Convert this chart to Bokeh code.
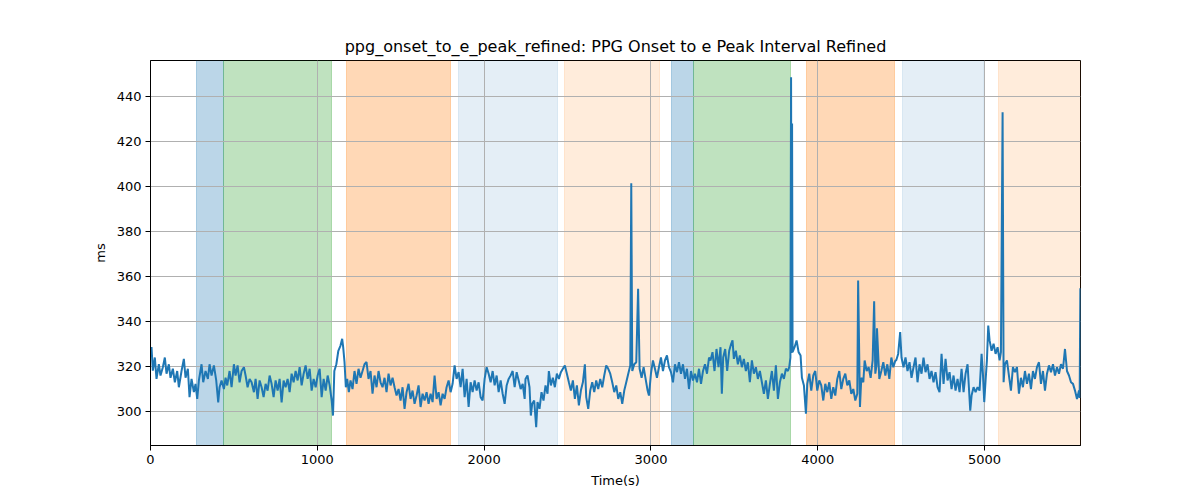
from bokeh.plotting import figure
from bokeh.models import Range1d, FixedTicker
from bokeh.embed import file_html
from bokeh.resources import INLINE

# shaded phases (start, end in seconds) and their colours
band_start = [276, 440, 1175, 1847, 2482, 3124, 3257, 3933, 4508, 5084]
band_end = [440, 1083, 1799, 2438, 3053, 3257, 3835, 4458, 4992, 5575]
band_color = ["#1f77b4", "#2ca02c", "#ff7f0e", "#1f77b4", "#ff7f0e",
              "#1f77b4", "#2ca02c", "#ff7f0e", "#1f77b4", "#ff7f0e"]
band_alpha = [0.3, 0.3, 0.3, 0.12, 0.15, 0.3, 0.3, 0.3, 0.12, 0.15]

time_s = [
    0, 6, 14, 26, 36, 50, 60, 74, 86, 96, 110, 120, 134, 146, 160, 170, 186, 200, 210, 224,
    234, 246, 260, 270, 280, 290, 306, 316, 330, 344, 354, 366, 380, 394, 406, 414, 426, 440, 450, 460,
    474, 486, 500, 510, 522, 534, 546, 560, 570, 582, 594, 606, 620, 630, 642, 654, 666, 678, 690, 702,
    714, 726, 738, 750, 762, 774, 786, 798, 810, 822, 834, 846, 858, 870, 882, 894, 906, 918, 930, 942,
    954, 966, 978, 990, 1002, 1014, 1026, 1038, 1050, 1062, 1074, 1086, 1094, 1102, 1114, 1126, 1139, 1149, 1155, 1163,
    1171, 1179, 1189, 1199, 1211, 1223, 1235, 1247, 1259, 1271, 1283, 1295, 1307, 1319, 1331, 1343, 1355, 1367, 1379, 1391,
    1403, 1415, 1427, 1439, 1451, 1463, 1475, 1487, 1499, 1511, 1523, 1535, 1547, 1559, 1571, 1583, 1595, 1607, 1619, 1631,
    1643, 1655, 1667, 1679, 1691, 1703, 1715, 1727, 1739, 1751, 1763, 1775, 1787, 1799, 1811, 1823, 1835, 1847, 1859, 1871,
    1883, 1895, 1907, 1919, 1931, 1943, 1955, 1967, 1979, 1991, 2003, 2015, 2027, 2039, 2051, 2063, 2075, 2087, 2099, 2111,
    2123, 2135, 2147, 2159, 2171, 2183, 2195, 2207, 2219, 2231, 2243, 2248, 2260, 2272, 2280, 2288, 2300, 2312, 2320, 2332,
    2344, 2356, 2368, 2380, 2388, 2400, 2412, 2424, 2436, 2448, 2460, 2472, 2484, 2496, 2508, 2520, 2532, 2544, 2556, 2568,
    2580, 2592, 2604, 2612, 2624, 2636, 2648, 2660, 2672, 2684, 2696, 2708, 2720, 2732, 2744, 2756, 2768, 2780, 2792, 2804,
    2816, 2828, 2840, 2852, 2864, 2876, 2882, 2888, 2900, 2912, 2923, 2932, 2944, 2956, 2968, 2980, 2988, 3000, 3012, 3024,
    3036, 3048, 3060, 3072, 3084, 3096, 3108, 3120, 3132, 3144, 3156, 3168, 3180, 3192, 3204, 3216, 3228, 3240, 3252, 3264,
    3276, 3288, 3300, 3312, 3324, 3336, 3348, 3357, 3369, 3381, 3393, 3405, 3417, 3425, 3433, 3445, 3457, 3469, 3481, 3489,
    3497, 3509, 3521, 3533, 3545, 3557, 3569, 3581, 3593, 3605, 3617, 3629, 3641, 3653, 3665, 3677, 3689, 3701, 3713, 3725,
    3737, 3749, 3761, 3773, 3785, 3797, 3809, 3821, 3829, 3836, 3840, 3843, 3846, 3849, 3861, 3873, 3885, 3897, 3905, 3917,
    3929, 3937, 3949, 3961, 3973, 3985, 3997, 4009, 4021, 4033, 4045, 4057, 4069, 4081, 4093, 4105, 4117, 4129, 4141, 4153,
    4165, 4177, 4189, 4201, 4213, 4225, 4237, 4242, 4253, 4261, 4273, 4281, 4293, 4305, 4317, 4329, 4338, 4345, 4352, 4355,
    4369, 4381, 4393, 4405, 4417, 4429, 4441, 4453, 4465, 4470, 4482, 4494, 4502, 4514, 4526, 4538, 4550, 4562, 4574, 4586,
    4598, 4610, 4622, 4634, 4646, 4658, 4670, 4682, 4694, 4706, 4718, 4730, 4742, 4754, 4766, 4778, 4790, 4802, 4814, 4826,
    4838, 4850, 4862, 4874, 4886, 4898, 4906, 4914, 4922, 4934, 4946, 4958, 4970, 4982, 4990, 4998, 5006, 5014, 5022, 5030,
    5042, 5054, 5066, 5078, 5090, 5098, 5108, 5114, 5122, 5134, 5146, 5158, 5170, 5182, 5194, 5206, 5218, 5230, 5242, 5254,
    5266, 5278, 5290, 5302, 5314, 5326, 5338, 5350, 5362, 5374, 5386, 5398, 5410, 5422, 5434, 5446, 5458, 5470, 5482, 5494,
    5506, 5518, 5530, 5542, 5554, 5566, 5570, 5574,
]

interval_ms = [
    327.0, 328.6, 318.2, 324.0, 314.5, 321.0, 316.0, 319.7, 324.0, 316.8, 321.0, 315.0, 319.0, 313.0, 318.0, 310.8, 318.0, 323.4, 315.0, 319.0,
    306.4, 314.5, 308.6, 312.3, 305.6, 313.8, 321.0, 313.0, 318.0, 314.5, 321.0, 316.0, 320.5, 313.8, 304.0, 310.8, 313.8, 310.0, 315.0, 311.6,
    318.0, 310.8, 321.0, 316.0, 320.5, 313.0, 318.0, 319.7, 316.0, 310.8, 314.5, 313.0, 308.6, 314.5, 305.6, 313.8, 310.8, 306.4, 312.3, 309.3,
    316.0, 312.3, 306.4, 313.8, 309.3, 314.5, 304.0, 313.8, 310.8, 314.5, 308.6, 316.8, 313.0, 318.0, 313.8, 319.7, 311.6, 316.8, 320.5, 314.5,
    319.0, 309.3, 314.5, 310.8, 316.0, 319.0, 306.4, 314.5, 309.3, 316.0, 311.6, 304.9, 298.2, 318.0, 321.0, 327.0, 329.3, 332.3, 328.6, 322.0,
    310.8, 314.5, 308.6, 313.8, 310.0, 318.0, 312.3, 319.0, 315.0, 318.0, 321.0, 322.0, 314.5, 318.0, 307.9, 316.0, 310.8, 318.0, 313.0, 310.8,
    315.0, 308.6, 316.8, 311.6, 315.0, 310.8, 307.1, 310.0, 304.9, 310.8, 301.2, 308.6, 312.3, 305.6, 309.3, 303.4, 307.1, 311.6, 302.0, 307.9,
    304.9, 308.6, 303.4, 307.9, 304.2, 316.0, 305.6, 308.6, 302.7, 307.9, 305.6, 310.8, 313.8, 308.6, 312.3, 320.5, 314.5, 317.5, 310.8, 319.0,
    306.4, 314.5, 302.0, 313.0, 308.6, 313.8, 309.3, 313.0, 306.4, 304.9, 314.5, 319.7, 316.8, 313.0, 318.0, 311.6, 316.0, 308.6, 313.8, 307.9,
    303.4, 311.6, 314.5, 316.0, 318.0, 310.8, 317.5, 313.8, 310.0, 312.3, 305.6, 314.5, 316.0, 310.8, 298.2, 303.4, 304.9, 293.0, 304.2, 301.2,
    308.6, 304.9, 311.6, 307.9, 318.0, 311.6, 315.0, 310.8, 316.8, 314.5, 317.5, 319.0, 320.5, 316.8, 313.0, 309.3, 313.8, 305.6, 311.6, 302.7,
    309.3, 313.0, 321.0, 306.4, 301.2, 309.3, 313.0, 308.6, 313.8, 310.0, 314.5, 310.8, 316.0, 320.5, 319.0, 316.8, 313.0, 308.6, 311.6, 305.6,
    308.6, 303.4, 309.3, 313.0, 316.8, 320.5, 401.5, 318.0, 321.0, 321.9, 354.5, 319.0, 315.0, 319.7, 314.5, 309.3, 307.1, 316.8, 322.7, 319.0,
    315.0, 319.7, 324.0, 318.0, 322.7, 324.9, 319.7, 317.5, 313.0, 321.0, 317.5, 321.9, 316.8, 321.0, 314.5, 319.0, 310.0, 318.0, 313.8, 316.8,
    313.0, 319.0, 312.3, 318.0, 321.0, 316.8, 324.0, 322.7, 326.4, 318.0, 327.8, 319.7, 328.6, 307.9, 324.0, 327.8, 318.0, 327.0, 330.1, 331.6,
    323.4, 327.0, 321.0, 324.9, 319.7, 323.4, 318.0, 321.9, 313.0, 322.7, 316.8, 319.7, 314.5, 318.0, 313.0, 307.9, 313.8, 305.6, 312.3, 318.0,
    309.3, 320.5, 305.6, 313.0, 316.8, 314.5, 319.0, 318.0, 319.7, 324.0, 448.6, 326.0, 428.0, 326.4, 328.6, 331.6, 326.4, 324.9, 315.0, 311.6,
    299.0, 312.3, 316.8, 309.3, 316.0, 318.0, 309.3, 313.8, 311.6, 304.9, 312.3, 308.6, 313.0, 305.6, 310.8, 307.1, 314.5, 318.0, 310.0, 314.5,
    316.8, 311.6, 313.8, 307.9, 310.0, 304.9, 307.9, 358.2, 302.0, 315.0, 313.0, 322.7, 318.0, 319.7, 315.0, 322.7, 349.0, 316.8, 320.5, 337.0,
    314.5, 318.0, 321.9, 316.0, 321.0, 314.5, 324.0, 319.7, 322.7, 322.7, 325.6, 335.3, 324.0, 319.7, 324.0, 318.0, 321.9, 315.0, 319.7, 324.0,
    313.0, 321.0, 316.8, 324.0, 317.5, 321.0, 314.5, 318.0, 313.0, 317.5, 310.8, 308.6, 325.6, 312.3, 323.4, 313.8, 317.5, 310.0, 316.0, 309.3,
    314.5, 308.6, 319.0, 308.6, 316.8, 321.0, 310.8, 300.4, 307.1, 310.8, 308.6, 310.8, 309.3, 325.6, 316.8, 304.2, 313.8, 322.7, 338.2, 331.6,
    327.0, 330.1, 325.6, 328.6, 322.7, 326.4, 433.0, 313.0, 321.0, 322.7, 316.0, 309.3, 319.7, 317.5, 319.7, 307.9, 315.0, 310.8, 318.0, 312.3,
    316.8, 310.0, 318.0, 314.5, 319.7, 321.9, 312.3, 318.0, 309.3, 316.8, 320.5, 317.5, 321.0, 316.0, 319.7, 316.8, 321.0, 319.0, 327.8, 318.0,
    316.0, 313.0, 312.3, 309.3, 305.6, 309.3, 306.0, 354.8,
]

p = figure(width=1200, height=500, output_backend="svg", toolbar_location=None,
           title="ppg_onset_to_e_peak_refined: PPG Onset to e Peak Interval Refined",
           x_range=Range1d(0, 5575), y_range=Range1d(284.9, 456),
           min_border_left=150, min_border_right=120, min_border_top=60, min_border_bottom=55)

# phase shading, drawn below the grid like matplotlib's axvspan
p.vstrip(x0=band_start, x1=band_end, fill_color=band_color, fill_alpha=band_alpha,
         line_color=band_color, line_alpha=band_alpha, line_width=1, level="image")

p.line(time_s, interval_ms, line_color="#1f77b4", line_width=2)

p.title.align = "center"
p.title.text_font = "DejaVu Sans"
p.title.text_font_size = "16px"
p.title.text_font_style = "normal"
p.title.text_color = "black"

p.xaxis.axis_label = "Time(s)"
p.yaxis.axis_label = "ms"
p.xaxis.ticker = FixedTicker(ticks=[0, 1000, 2000, 3000, 4000, 5000])
p.yaxis.ticker = FixedTicker(ticks=[300, 320, 340, 360, 380, 400, 420, 440])
for ax in (p.xaxis, p.yaxis):
    ax.axis_label_text_font = "DejaVu Sans"
    ax.axis_label_text_font_size = "13px"
    ax.axis_label_text_font_style = "normal"
    ax.axis_label_text_color = "black"
    ax.major_label_text_font = "DejaVu Sans"
    ax.major_label_text_font_size = "13px"
    ax.major_label_text_color = "black"
    ax.major_tick_out = 5
    ax.major_tick_in = 0
    ax.minor_tick_line_color = None
    ax.axis_line_color = "black"
    ax.major_tick_line_color = "black"
    ax.major_label_standoff = 4
    ax.axis_label_standoff = 6

p.grid.grid_line_color = "#b0b0b0"
p.grid.grid_line_width = 1
p.outline_line_color = "black"
p.outline_line_alpha = 1
p.outline_line_width = 1

open("out.html", "w").write(file_html(p, INLINE))
